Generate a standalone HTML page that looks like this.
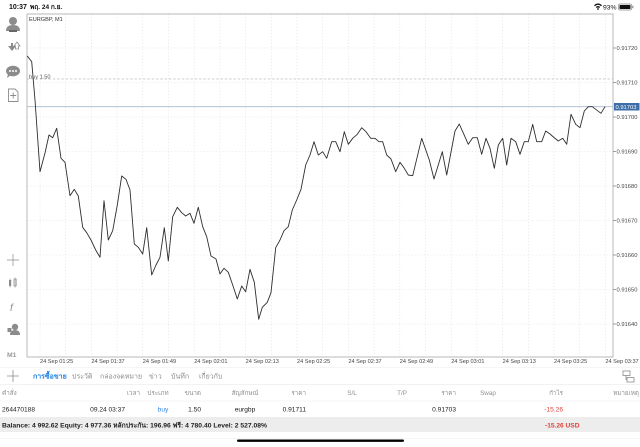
<!DOCTYPE html>
<html><head><meta charset="utf-8">
<style>
html,body{margin:0;padding:0;background:#fff;}
body{width:640px;height:447px;overflow:hidden;}
svg{display:block;}
text{font-family:"Liberation Sans","DejaVu Sans","Noto Sans CJK SC",sans-serif;}
</style></head>
<body>
<svg width="640" height="447" viewBox="0 0 640 447" xmlns="http://www.w3.org/2000/svg">
<rect x="0" y="0" width="640" height="447" fill="#fff"/>

<!-- status bar -->
<text x="9" y="9" font-size="7" font-weight="bold" fill="#111">10:37</text>
<text x="30" y="9" font-size="6.5" font-weight="bold" fill="#111">พฤ. 24 ก.ย.</text>
<g fill="#111">
  <path d="M594,5.2 Q598,1.5 602,5.2 L601,6.2 Q598,3.4 595,6.2 Z"/>
  <path d="M595.8,7 Q598,5 600.2,7 L599.2,8 Q598,7 596.8,8 Z"/>
  <circle cx="598" cy="9" r="0.9"/>
</g>
<text x="603" y="9.5" font-size="6.8" fill="#111">93%</text>
<rect x="618.5" y="4" width="13" height="6" rx="1.5" fill="none" stroke="#888" stroke-width="0.7"/>
<rect x="619.5" y="5" width="11" height="4" rx="0.8" fill="#111"/>
<rect x="632.2" y="5.8" width="1.2" height="2.4" fill="#888"/>

<!-- left toolbar icons -->
<g fill="#8c8c8c">
  <circle cx="13" cy="21" r="4"/>
  <path d="M6,31 Q6,25 13,25 Q20,25 20,31 Z"/>
  <rect x="9" y="30" width="8" height="2" fill="#666"/>
  <!-- arrows -->
  <path d="M8,46 L11,46 L11,43 L13,43 L13,46 L16,46 L12,51 Z"/>
  <path d="M14,46 L17,42 L20,46 L18.5,46 L18.5,49 L15.5,49 L15.5,46 Z" fill="none" stroke="#8c8c8c" stroke-width="0.8"/>
  <!-- chat -->
  <ellipse cx="13" cy="71" rx="7" ry="5.3"/>
  <path d="M8,74 L7,78 L11,75 Z"/>
</g>
<g fill="#fff"><circle cx="10" cy="71" r="1"/><circle cx="13" cy="71" r="1"/><circle cx="16" cy="71" r="1"/></g>
<g fill="none" stroke="#8c8c8c" stroke-width="0.9">
  <path d="M8.5,89 L15,89 L18,92 L18,101.5 L8.5,101.5 Z"/>
  <path d="M13.2,92.5 L13.2,98.5 M10.2,95.5 L16.2,95.5"/>
  <!-- crosshair -->
  <path d="M13,254 L13,266 M7,260 L19,260" stroke-width="0.7"/>
</g>
<g fill="#8c8c8c">
  <rect x="9" y="280" width="2.2" height="6"/><rect x="9.8" y="278.5" width="0.6" height="9"/>
  <rect x="14" y="279" width="2.2" height="7" fill="none" stroke="#8c8c8c" stroke-width="0.7"/><rect x="14.8" y="277.5" width="0.6" height="10"/>
  <circle cx="15" cy="327" r="3.2"/>
  <path d="M10,335 Q10,330 15,330 Q20,330 20,335 Z"/>
  <rect x="7.5" y="328" width="4" height="4"/>
</g>
<text x="10" y="311" font-size="10" font-style="italic" fill="#8c8c8c" font-family="Liberation Serif, serif">f</text>
<text x="7" y="357" font-size="6.8" font-weight="bold" fill="#9a9a9a">M1</text>

<!-- grid -->
<g stroke="#dcdcdc" stroke-width="0.6" stroke-dasharray="1.2,2">
  <line x1="27" y1="48" x2="613" y2="48"/>
  <line x1="27" y1="82.5" x2="613" y2="82.5"/>
  <line x1="27" y1="117" x2="613" y2="117"/>
  <line x1="27" y1="151.5" x2="613" y2="151.5"/>
  <line x1="27" y1="186" x2="613" y2="186"/>
  <line x1="27" y1="220.5" x2="613" y2="220.5"/>
  <line x1="27" y1="255" x2="613" y2="255"/>
  <line x1="27" y1="289.5" x2="613" y2="289.5"/>
  <line x1="27" y1="324" x2="613" y2="324"/>
  <line x1="40" y1="14" x2="40" y2="357"/>
  <line x1="65.7" y1="14" x2="65.7" y2="357"/>
  <line x1="91.4" y1="14" x2="91.4" y2="357"/>
  <line x1="117.1" y1="14" x2="117.1" y2="357"/>
  <line x1="142.8" y1="14" x2="142.8" y2="357"/>
  <line x1="168.5" y1="14" x2="168.5" y2="357"/>
  <line x1="194.2" y1="14" x2="194.2" y2="357"/>
  <line x1="219.9" y1="14" x2="219.9" y2="357"/>
  <line x1="245.6" y1="14" x2="245.6" y2="357"/>
  <line x1="271.3" y1="14" x2="271.3" y2="357"/>
  <line x1="297" y1="14" x2="297" y2="357"/>
  <line x1="322.7" y1="14" x2="322.7" y2="357"/>
  <line x1="348.4" y1="14" x2="348.4" y2="357"/>
  <line x1="374.1" y1="14" x2="374.1" y2="357"/>
  <line x1="399.8" y1="14" x2="399.8" y2="357"/>
  <line x1="425.5" y1="14" x2="425.5" y2="357"/>
  <line x1="451.2" y1="14" x2="451.2" y2="357"/>
  <line x1="476.9" y1="14" x2="476.9" y2="357"/>
  <line x1="502.6" y1="14" x2="502.6" y2="357"/>
  <line x1="528.3" y1="14" x2="528.3" y2="357"/>
  <line x1="554" y1="14" x2="554" y2="357"/>
  <line x1="579.7" y1="14" x2="579.7" y2="357"/>
  <line x1="605.4" y1="14" x2="605.4" y2="357"/>
</g>

<!-- frame -->
<rect x="27" y="14" width="586" height="343" fill="none" stroke="#a8a8a8" stroke-width="0.8"/>

<!-- buy line -->
<line x1="27" y1="79" x2="613" y2="79" stroke="#a0a0a0" stroke-width="0.6" stroke-dasharray="2.5,1.8"/>
<text x="29" y="78.5" font-size="5.6" fill="#555">buy 1.50</text>
<!-- bid line -->
<line x1="27" y1="106.7" x2="613" y2="106.7" stroke="#a9b8cc" stroke-width="0.8"/>

<text x="29" y="21" font-size="5.6" fill="#333">EURGBP, M1</text>

<!-- price series -->
<polyline fill="none" stroke="#2e2e2e" stroke-width="0.9" stroke-linejoin="round" points="
27.3,56 31.7,61.7 35,100 40,171.7 45,153 49,135 52.7,137.7 56.7,128.3 61,158.3 65,162.3 70,195.7 74.3,189.3 78.3,196 82.7,227.3 86.7,232.7 91,240 95.7,250 100,257.3 104,200.7 108.3,240 112.7,230.7 117.3,205 121.7,176 126,179.3 130,190 134.3,244 138.3,247.3 142.7,254 146.7,227.7 151.7,275 156,265 160,257.3 164.3,227.7 168.3,261 172.7,216.7 177.3,207.3 181.7,212.7 185.7,216 190,213.3 194,223.3 198.3,207.3 202.7,226.7 206.7,236.7 211,256 216,259 220,274 224,268.3 228.3,272.3 232.7,285 237.3,299 241.7,286 245.7,291.7 250,269.3 254.3,282.3 258.7,319.3 262.3,307.3 267.3,302.3 271,292.7 275.7,247.7 280,240 284,230.7 288.3,226.7 292.3,210 296.7,200 301,189.3 305.7,165 310,155 314,141.7 318.3,155 322.7,151.7 326.7,158.3 331.7,141.7 335.7,141.7 340,151.7 344.3,131.7 348.3,144.3 352.7,138.3 357.3,134.3 361.7,127.7 366,131.7 370.7,138.3 375,138.3 379,141.7 382.7,141.7 386.7,155 391,159 395.7,171.7 400,162.3 404.3,168.3 408.3,175 412.7,175.7 421.7,138.3 429.3,160 434,179 442.3,151.7 446.7,175 455,131 459.3,124 468.3,144.3 472.7,137.7 477.3,137.7 481.7,154.3 486,138.3 490,148.3 494.3,168.3 498.3,145 502.7,138.3 506.7,165 511,138.3 515.7,141.7 520,154.3 524.3,141.7 528.3,141.7 532.7,124.3 536.7,141.7 541.7,141.7 545.7,131 550,134 554,137.5 558.3,141 562.7,138.3 566.7,144.3 571,114.3 575.7,124.3 580,127.7 584.3,111 588.3,106.7 592.3,106.7 601,113.3 605,106.7"/>

<!-- y axis labels -->
<g font-size="5.8" fill="#444">
  <text x="616.5" y="50">0.91720</text>
  <text x="616.5" y="84.5">0.91710</text>
  <text x="616.5" y="119">0.91700</text>
  <text x="616.5" y="153.5">0.91690</text>
  <text x="616.5" y="188">0.91680</text>
  <text x="616.5" y="222.5">0.91670</text>
  <text x="616.5" y="257">0.91660</text>
  <text x="616.5" y="291.5">0.91650</text>
  <text x="616.5" y="326">0.91640</text>
</g>
<g stroke="#666" stroke-width="0.6">
  <line x1="613" y1="48" x2="616" y2="48"/><line x1="613" y1="82.5" x2="616" y2="82.5"/>
  <line x1="613" y1="117" x2="616" y2="117"/><line x1="613" y1="151.5" x2="616" y2="151.5"/>
  <line x1="613" y1="186" x2="616" y2="186"/><line x1="613" y1="220.5" x2="616" y2="220.5"/>
  <line x1="613" y1="255" x2="616" y2="255"/><line x1="613" y1="289.5" x2="616" y2="289.5"/>
  <line x1="613" y1="324" x2="616" y2="324"/>
</g>
<rect x="614" y="103" width="25.5" height="7.5" fill="#3c6ea8"/>
<text x="615.5" y="109" font-size="5.8" fill="#fff">0.91703</text>

<!-- x axis labels -->
<g font-size="5.6" fill="#444">
  <text x="40" y="363">24 Sep 01:25</text>
  <text x="91.4" y="363">24 Sep 01:37</text>
  <text x="142.8" y="363">24 Sep 01:49</text>
  <text x="194.2" y="363">24 Sep 02:01</text>
  <text x="245.6" y="363">24 Sep 02:13</text>
  <text x="297" y="363">24 Sep 02:25</text>
  <text x="348.4" y="363">24 Sep 02:37</text>
  <text x="399.8" y="363">24 Sep 02:49</text>
  <text x="451.2" y="363">24 Sep 03:01</text>
  <text x="502.6" y="363">24 Sep 03:13</text>
  <text x="554" y="363">24 Sep 03:25</text>
  <text x="605.4" y="363">24 Sep 03:37</text>
</g>

<!-- tabs row -->
<line x1="0" y1="367.5" x2="640" y2="367.5" stroke="#ececec" stroke-width="0.6"/>
<path d="M13,370 L13,382 M7,376 L19,376" stroke="#8c8c8c" stroke-width="0.8"/>
<g font-size="7" fill="#8a8a8a">
  <text x="33" y="378.5" fill="#1d7fe2" font-weight="bold">การซื้อขาย</text>
  <text x="72" y="378.5">ประวัติ</text>
  <text x="100" y="378.5">กล่องจดหมาย</text>
  <text x="149" y="378.5">ข่าว</text>
  <text x="171" y="378.5">บันทึก</text>
  <text x="199" y="378.5">เกี่ยวกับ</text>
</g>
<g fill="none" stroke="#8c8c8c" stroke-width="0.8">
  <rect x="623" y="371" width="7" height="4.5"/>
  <rect x="627" y="377.5" width="7" height="4.5"/>
  <path d="M626,375.5 L626,379.5 L627,379.5"/>
</g>
<line x1="0" y1="384.5" x2="640" y2="384.5" stroke="#e6e6e6" stroke-width="0.6"/>

<!-- header row -->
<g font-size="6.3" fill="#8f8f8f">
  <text x="2" y="395">คำสั่ง</text>
  <text x="140" y="395" text-anchor="end">เวลา</text>
  <text x="158" y="395" text-anchor="middle">ประเภท</text>
  <text x="201" y="395" text-anchor="end">ขนาด</text>
  <text x="245" y="395" text-anchor="middle">สัญลักษณ์</text>
  <text x="306" y="395" text-anchor="end">ราคา</text>
  <text x="352" y="395" text-anchor="middle">S/L</text>
  <text x="402" y="395" text-anchor="middle">T/P</text>
  <text x="456" y="395" text-anchor="end">ราคา</text>
  <text x="488" y="395" text-anchor="middle">Swap</text>
  <text x="563" y="395" text-anchor="end">กำไร</text>
  <text x="639" y="395" text-anchor="end">หมายเหตุ</text>
</g>
<line x1="0" y1="401" x2="640" y2="401" stroke="#ececec" stroke-width="0.6"/>

<!-- data row -->
<g font-size="6.6" fill="#222">
  <text x="2" y="411.5">264470188</text>
  <text x="125" y="411.5" text-anchor="end">09.24 03:37</text>
  <text x="163" y="411.5" text-anchor="middle" fill="#2f86e6">buy</text>
  <text x="201" y="411.5" text-anchor="end">1.50</text>
  <text x="245" y="411.5" text-anchor="middle">eurgbp</text>
  <text x="306" y="411.5" text-anchor="end">0.91711</text>
  <text x="456" y="411.5" text-anchor="end">0.91703</text>
  <text x="563" y="411.5" text-anchor="end" fill="#e0403a">-15.26</text>
</g>

<!-- balance row -->
<rect x="0" y="417" width="640" height="15" fill="#ededed"/>
<text x="2" y="427.5" font-size="6.6" font-weight="bold" fill="#222" textLength="265" lengthAdjust="spacingAndGlyphs">Balance: 4 992.62 Equity: 4 977.36 หลักประกัน: 196.96 ฟรี: 4 780.40 Level: 2 527.08%</text>
<text x="545" y="427.5" font-size="6.6" font-weight="bold" fill="#e0403a">-15.26  USD</text>
<line x1="0" y1="438.5" x2="640" y2="438.5" stroke="#eeeeee" stroke-width="0.6"/>

<!-- home indicator -->
<rect x="237" y="439.5" width="167" height="2.4" rx="1.2" fill="#000"/>
</svg>
</body></html>
